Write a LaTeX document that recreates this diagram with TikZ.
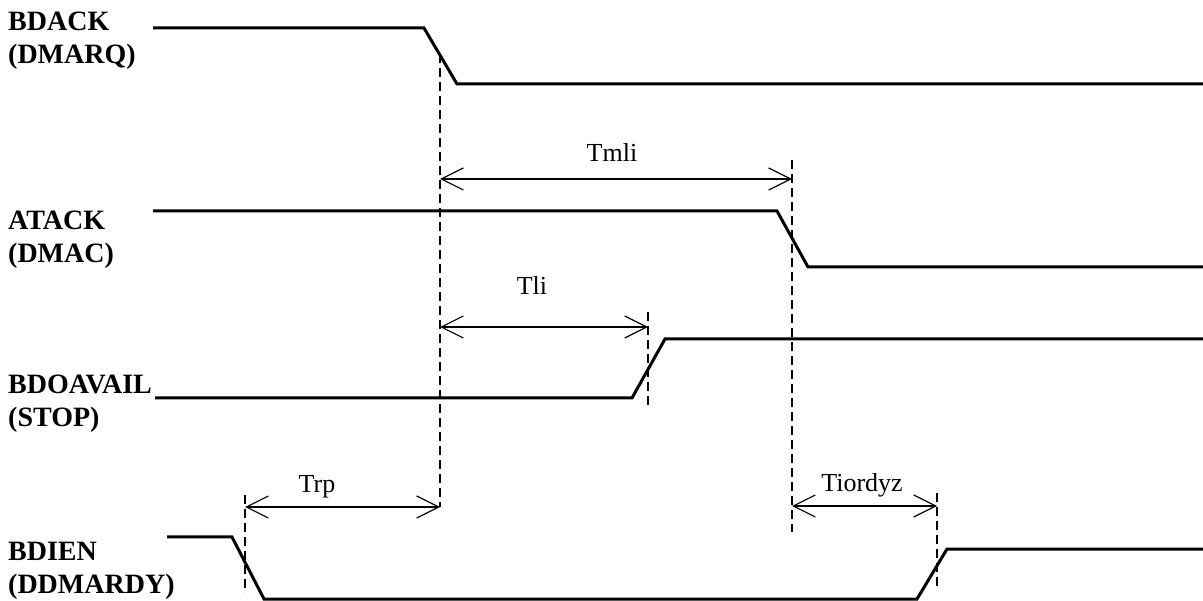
\documentclass[tikz,border=0pt]{standalone}
\usepackage{fontspec}
\setmainfont{Liberation Serif}
\usetikzlibrary{arrows.meta,positioning,calc}

\tikzset{
  sig/.style={line width=3pt, line join=miter},
  guide/.style={line width=1.3pt, dash pattern=on 9pt off 5pt},
  span/.style={line width=1.2pt,
    {Straight Barb[length=22pt,width=22pt]}-{Straight Barb[length=22pt,width=22pt]}},
  signame/.style={font=\bfseries\fontsize{28}{33}\selectfont, align=left,
    anchor=north west, inner sep=0pt},
  spanlbl/.style={font=\fontsize{26}{30}\selectfont, anchor=base, inner sep=0pt},
}

\begin{document}
\begin{tikzpicture}[x=1pt,y=-1pt]
  \useasboundingbox (0,0) rectangle (1203,601);
  % signal names, one per trace
  \node[signame] (bdack) at (8,12)    {BDACK\\(DMARQ)};
  \node[signame] (atack) at (8,210.5) {ATACK\\(DMAC)};
  \node[signame] (bdoav) at (8,374.5) {BDOAVAIL\\(STOP)};
  \node[signame] (bdien) at (8,541.5) {BDIEN\\(DDMARDY)};
  % the four traces
  \draw[sig] (153,28)  -- (424,28)  -- (457,84)  -- (1203,84);
  \draw[sig] (153,211) -- (777,211) -- (808,267) -- (1203,267);
  \draw[sig] (155,398) -- (632,398) -- (665,339) -- (1203,339);
  \draw[sig] (167,537) -- (232,537) -- (264,599) -- (917,599) -- (947,549) -- (1203,549);
  % dashed markers through the edges
  \foreach \gx/\ya/\yb in {440/54/507, 792/160/532, 648/312/408, 245/495/593, 937/493/590}{
    \draw[guide] (\gx,\ya) -- (\gx,\yb);
  }
  % timing spans: name/left/right/arrow y/label x/label baseline
  \foreach \nm/\xa/\xb/\ya/\lx/\ly in {Tmli/440/792/179/612/162, Tli/440/648/327/532/295,
      Trp/245/440/507/317/493, Tiordyz/792/937/506/862/492}{
    \coordinate (\nm-l) at (\xa,\ya);
    \coordinate (\nm-r) at (\xb,\ya);
    \draw[span] (\nm-l) -- (\nm-r);
    \node[spanlbl] (\nm-lbl) at (\lx,\ly) {\nm};
  }
\end{tikzpicture}
\end{document}
